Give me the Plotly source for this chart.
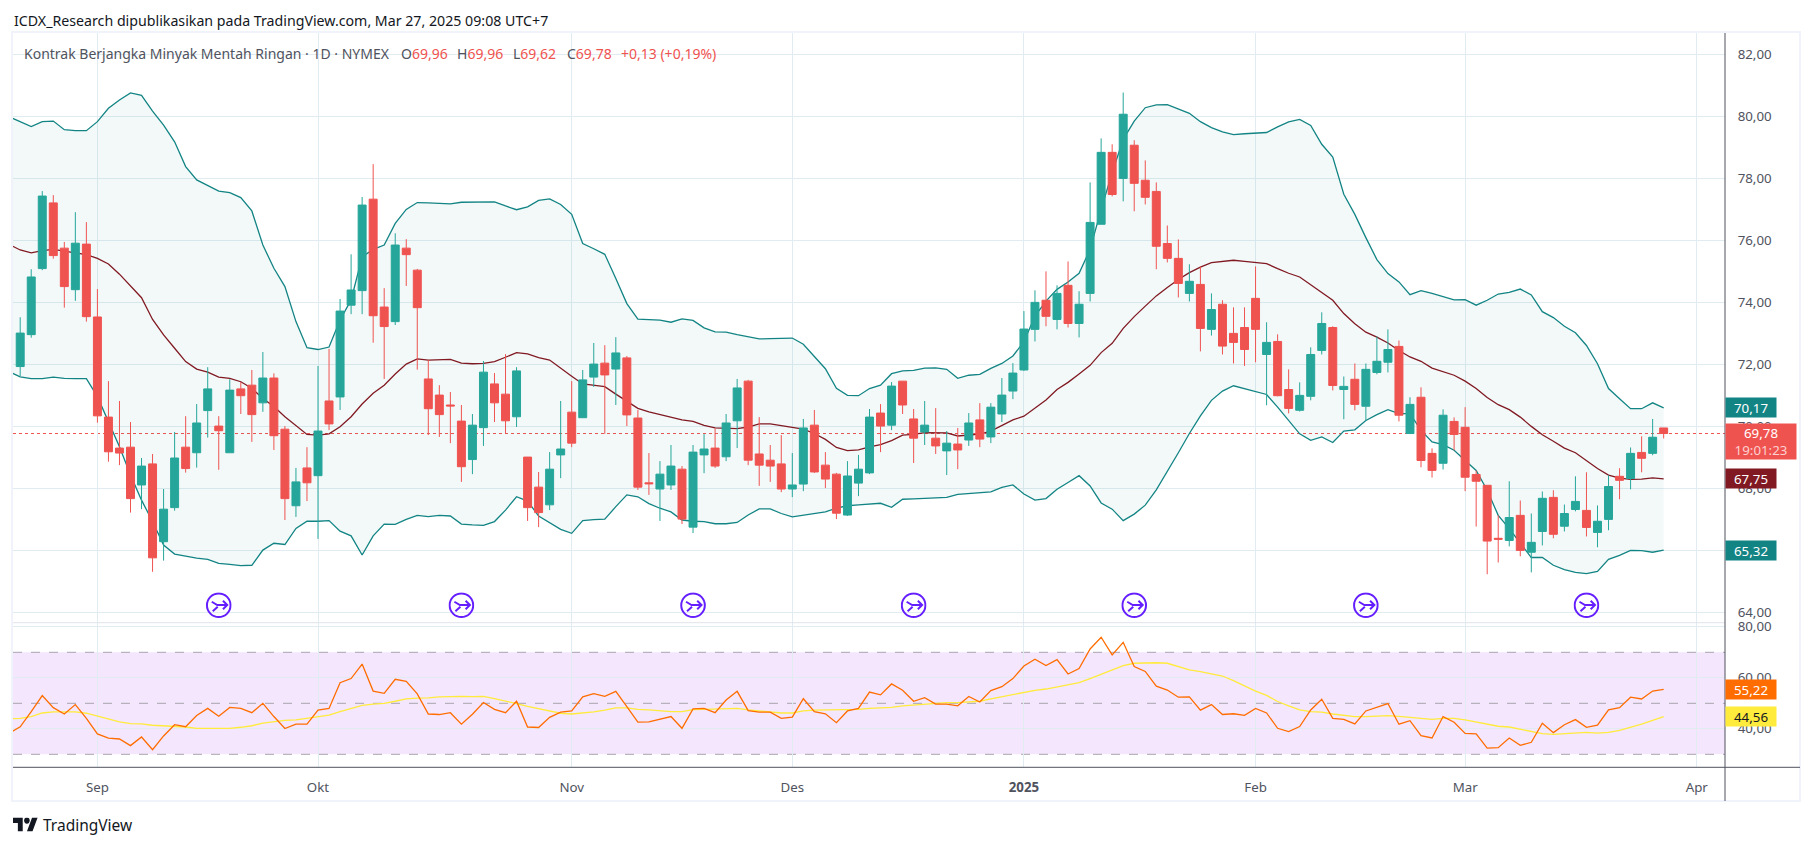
import base64
import plotly.graph_objects as go

W, H = 1814, 846
FONT = "Noto Sans"

open_ = [71.94, 72.97, 75.10, 77.22, 75.76, 74.42, 75.89, 73.54, 70.31, 69.31,
         69.34, 68.12, 68.80, 66.29, 67.39, 69.34, 69.16, 70.52, 70.02, 69.16,
         71.22, 71.34, 70.77, 71.57, 69.92, 67.45, 68.67, 68.42, 70.83, 70.96,
         73.92, 74.39, 77.34, 73.86, 73.39, 75.76, 75.05, 71.54, 71.02, 70.70,
         70.18, 68.94, 69.97, 71.38, 71.05, 70.32, 69.02, 68.05, 67.48, 69.09,
         70.47, 70.29, 71.60, 72.05, 71.86, 72.22, 70.28, 68.19, 67.99, 68.12,
         68.63, 66.76, 69.09, 69.31, 69.03, 70.19, 71.47, 69.12, 68.92, 68.80,
         67.99, 68.15, 70.05, 68.76, 68.47, 67.15, 68.18, 68.51, 70.44, 70.05,
         71.47, 70.25, 69.83, 69.63, 69.22, 69.44, 69.57, 70.22, 69.67, 70.41,
         71.15, 71.83, 73.14, 74.08, 73.46, 74.56, 73.33, 74.30, 76.53, 78.85,
         78.01, 79.08, 77.95, 77.59, 75.91, 75.43, 74.30, 74.59, 73.14, 73.95,
         73.01, 73.20, 74.14, 72.33, 72.75, 71.20, 70.53, 70.98, 72.46, 73.20,
         71.20, 71.53, 70.66, 71.75, 72.08, 72.59, 69.78, 70.95, 69.14, 68.82,
         70.17, 69.98, 68.46, 68.11, 66.40, 66.33, 67.14, 65.95, 66.62, 67.72,
         66.79, 67.33, 67.30, 66.59, 67.01, 68.40, 68.33, 69.17, 69.14, 69.96]
high = [73.53, 75.08, 77.60, 77.47, 75.96, 76.92, 76.60, 74.44, 71.47, 70.83,
        70.15, 68.99, 69.12, 67.99, 69.83, 70.34, 70.73, 71.92, 70.34, 71.53,
        71.44, 71.83, 72.41, 71.72, 70.02, 68.67, 69.34, 71.96, 72.51, 74.12,
        75.56, 77.41, 78.47, 74.47, 76.24, 76.05, 75.09, 72.15, 71.34, 71.12,
        70.70, 70.41, 72.12, 71.73, 72.34, 71.92, 69.02, 68.54, 69.18, 70.83,
        71.47, 71.83, 72.70, 72.63, 72.89, 72.28, 70.54, 69.15, 68.89, 69.41,
        68.73, 69.41, 69.76, 69.95, 70.41, 71.54, 71.51, 70.31, 69.41, 69.73,
        69.15, 70.25, 70.54, 69.18, 68.51, 68.89, 69.09, 70.57, 70.73, 71.44,
        71.47, 70.57, 70.83, 70.60, 69.86, 69.96, 70.44, 70.76, 70.76, 71.57,
        72.05, 73.73, 74.40, 75.01, 74.56, 75.33, 74.37, 77.88, 79.30, 79.11,
        80.78, 79.24, 78.59, 77.88, 76.49, 76.04, 75.24, 75.17, 74.30, 74.08,
        73.85, 73.85, 75.17, 73.37, 72.98, 71.85, 71.43, 72.56, 73.69, 73.24,
        71.62, 72.04, 72.04, 72.91, 73.14, 72.78, 70.95, 71.27, 69.30, 70.56,
        70.30, 70.63, 68.59, 68.11, 67.14, 68.24, 67.62, 67.20, 67.91, 67.95,
        67.49, 68.40, 68.53, 67.46, 68.43, 68.66, 69.33, 69.69, 70.25, 69.96]
low = [71.63, 72.87, 75.05, 75.42, 73.84, 74.06, 73.39, 70.13, 68.87, 68.76,
       67.23, 67.34, 65.32, 65.68, 67.29, 68.52, 68.68, 69.65, 68.61, 69.16,
       70.41, 69.51, 70.48, 69.25, 66.99, 67.09, 67.60, 66.38, 69.89, 70.54,
       73.63, 73.63, 72.71, 71.54, 73.28, 74.54, 71.84, 69.73, 69.67, 69.47,
       68.22, 68.47, 69.38, 70.15, 69.78, 69.99, 66.96, 66.76, 67.31, 68.34,
       69.34, 70.29, 71.28, 69.77, 70.70, 70.02, 67.96, 67.80, 66.96, 67.96,
       66.86, 66.57, 68.50, 68.67, 68.89, 69.31, 68.76, 68.09, 68.22, 67.89,
       67.73, 67.92, 68.51, 68.02, 67.02, 67.12, 67.76, 68.47, 69.18, 69.89,
       70.41, 68.83, 69.41, 69.12, 68.44, 68.63, 69.38, 69.34, 69.47, 70.15,
       70.89, 71.80, 72.75, 73.24, 73.14, 73.20, 72.88, 74.04, 76.53, 77.43,
       77.27, 76.95, 77.17, 75.08, 75.30, 74.17, 74.04, 72.43, 72.94, 72.33,
       72.04, 71.96, 72.08, 70.69, 70.98, 70.43, 70.49, 70.85, 72.33, 71.17,
       70.24, 70.53, 70.20, 71.69, 71.75, 70.17, 69.78, 68.69, 68.36, 68.62,
       69.24, 67.92, 66.78, 65.24, 65.62, 66.14, 65.82, 65.30, 66.17, 66.40,
       66.62, 67.27, 66.46, 66.11, 66.66, 67.66, 67.98, 68.53, 69.08, 69.62]
close = [73.02, 74.83, 77.44, 75.52, 74.52, 75.92, 73.55, 70.35, 69.19, 69.15,
         67.68, 68.73, 65.77, 67.34, 68.99, 68.65, 70.12, 71.22, 69.87, 71.18,
         71.00, 70.39, 71.57, 69.71, 67.68, 68.22, 68.19, 69.86, 70.09, 73.73,
         74.41, 77.15, 73.58, 73.23, 75.86, 75.55, 73.84, 70.58, 70.39, 70.67,
         68.71, 70.05, 71.76, 70.77, 70.19, 71.80, 67.39, 67.23, 68.63, 69.28,
         69.47, 71.51, 72.02, 71.67, 72.38, 70.38, 68.05, 68.16, 68.47, 68.73,
         67.02, 69.18, 69.28, 68.73, 70.12, 71.25, 68.92, 68.76, 68.73, 67.99,
         68.12, 69.96, 68.54, 68.31, 67.21, 68.41, 68.63, 70.31, 70.02, 71.31,
         70.70, 69.63, 70.05, 69.38, 69.47, 69.25, 70.12, 69.60, 70.63, 71.02,
         71.73, 73.15, 74.01, 73.56, 74.30, 73.33, 73.95, 76.59, 78.85, 77.49,
         80.08, 77.85, 77.40, 75.82, 75.43, 74.62, 74.69, 73.17, 73.78, 72.60,
         72.72, 72.49, 73.14, 72.72, 71.00, 70.59, 71.01, 72.33, 73.33, 71.33,
         71.30, 70.72, 71.85, 72.11, 72.49, 70.37, 70.72, 68.91, 68.59, 70.37,
         69.75, 68.37, 68.24, 66.31, 66.37, 67.07, 66.01, 66.27, 67.69, 66.53,
         67.20, 67.59, 66.75, 66.95, 68.07, 68.27, 69.14, 68.98, 69.66, 69.78]

# bollinger bands and rsi start one bar before the first visible candle
bb_upper = [80.00, 79.84, 79.68, 79.84, 79.86, 79.58, 79.55, 79.55, 79.84, 80.27, 80.54,
            80.77, 80.69, 80.18, 79.73, 79.19, 78.39, 77.96, 77.78, 77.60, 77.55,
            77.39, 76.96, 75.86, 75.11, 74.52, 73.39, 72.55, 72.49, 72.57, 73.44,
            74.09, 75.48, 75.72, 75.86, 76.56, 77.01, 77.23, 77.22, 77.20, 77.19,
            77.24, 77.24, 77.25, 77.25, 77.12, 77.00, 77.09, 77.30, 77.35, 77.17,
            76.85, 75.91, 75.74, 75.56, 74.78, 73.97, 73.47, 73.46, 73.44, 73.37,
            73.48, 73.43, 73.19, 73.06, 73.05, 72.97, 72.90, 72.83, 72.84, 72.86,
            72.86, 72.66, 72.26, 71.87, 71.24, 71.01, 71.00, 71.23, 71.34, 71.71,
            71.80, 71.82, 71.89, 71.90, 71.85, 71.56, 71.66, 71.69, 71.88, 72.04,
            72.28, 72.74, 73.57, 74.05, 74.43, 74.67, 74.95, 75.72, 77.01, 78.19,
            79.27, 79.86, 80.29, 80.38, 80.39, 80.24, 80.11, 79.84, 79.65, 79.51,
            79.42, 79.45, 79.47, 79.49, 79.67, 79.83, 79.91, 79.72, 79.11, 78.70,
            77.50, 76.85, 76.10, 75.39, 74.94, 74.67, 74.26, 74.39, 74.30, 74.19,
            74.09, 74.10, 73.92, 74.08, 74.28, 74.33, 74.44, 74.25, 73.71, 73.52,
            73.24, 73.03, 72.62, 72.03, 71.23, 70.90, 70.58, 70.58, 70.77, 70.61]
bb_basis = [75.88, 75.70, 75.61, 75.68, 75.72, 75.66, 75.59, 75.55, 75.43, 75.25, 74.92,
            74.54, 74.16, 73.46, 72.96, 72.53, 72.10, 71.86, 71.76, 71.60, 71.56,
            71.45, 71.24, 70.91, 70.65, 70.32, 70.02, 69.75, 69.73, 69.77, 70.00,
            70.32, 70.73, 71.08, 71.34, 71.70, 72.02, 72.19, 72.15, 72.16, 72.17,
            72.05, 72.03, 72.04, 72.10, 72.24, 72.39, 72.35, 72.23, 72.15, 71.88,
            71.63, 71.38, 71.34, 71.29, 71.05, 70.81, 70.59, 70.48, 70.40, 70.30,
            70.22, 70.17, 70.04, 69.96, 69.95, 69.94, 69.99, 70.09, 70.09, 70.03,
            69.98, 69.92, 69.78, 69.59, 69.33, 69.23, 69.25, 69.35, 69.42, 69.55,
            69.73, 69.75, 69.81, 69.81, 69.80, 69.70, 69.73, 69.76, 69.86, 70.05,
            70.22, 70.34, 70.59, 70.86, 71.20, 71.43, 71.70, 71.98, 72.39, 72.69,
            73.17, 73.55, 73.89, 74.22, 74.49, 74.75, 74.97, 75.15, 75.29, 75.33,
            75.37, 75.33, 75.30, 75.26, 75.10, 74.95, 74.83, 74.58, 74.34, 74.08,
            73.65, 73.32, 73.05, 72.89, 72.70, 72.46, 72.25, 72.11, 71.89, 71.78,
            71.66, 71.47, 71.23, 70.94, 70.71, 70.55, 70.31, 70.01, 69.74, 69.53,
            69.31, 69.16, 68.89, 68.65, 68.44, 68.34, 68.30, 68.31, 68.35, 68.32]
bb_lower = [71.77, 71.61, 71.55, 71.55, 71.60, 71.56, 71.55, 71.55, 70.97, 70.16, 69.35,
            68.44, 67.63, 66.94, 66.18, 65.89, 65.82, 65.76, 65.72, 65.59, 65.56,
            65.52, 65.53, 66.02, 66.24, 66.20, 66.72, 66.95, 66.95, 66.97, 66.63,
            66.48, 65.86, 66.48, 66.86, 66.85, 67.01, 67.14, 67.10, 67.14, 67.12,
            66.86, 66.83, 66.82, 66.94, 67.31, 67.74, 67.60, 67.12, 66.91, 66.69,
            66.56, 66.97, 67.00, 67.02, 67.42, 67.80, 67.74, 67.52, 67.37, 67.25,
            66.99, 66.95, 66.94, 66.87, 66.87, 66.91, 67.15, 67.35, 67.35, 67.20,
            67.09, 67.14, 67.19, 67.25, 67.37, 67.45, 67.48, 67.51, 67.53, 67.40,
            67.66, 67.67, 67.69, 67.72, 67.72, 67.82, 67.84, 67.87, 67.90, 68.04,
            68.12, 67.83, 67.63, 67.68, 67.98, 68.20, 68.42, 68.09, 67.54, 67.34,
            66.97, 67.18, 67.47, 67.96, 68.55, 69.16, 69.78, 70.35, 70.85, 71.15,
            71.32, 71.23, 71.15, 71.04, 70.63, 70.20, 69.77, 69.56, 69.67, 69.49,
            69.86, 69.90, 70.20, 70.39, 70.55, 70.42, 70.42, 69.88, 69.51, 69.42,
            69.24, 68.91, 68.59, 67.95, 67.14, 66.71, 66.23, 65.78, 65.78, 65.53,
            65.39, 65.30, 65.26, 65.33, 65.72, 65.85, 66.01, 66.00, 65.95, 66.02]
rsi = [38.2, 40.8, 46.7, 53.0, 48.3, 45.8, 49.5, 44.1, 38.0, 36.3, 36.0,
       33.4, 36.8, 31.8, 37.2, 41.6, 40.8, 45.2, 48.0, 44.9, 48.4,
       48.0, 46.3, 50.0, 44.8, 40.1, 41.8, 41.8, 47.3, 48.0, 58.1,
       59.7, 65.4, 54.8, 53.9, 59.4, 58.6, 53.7, 45.8, 45.6, 46.3,
       41.8, 45.7, 50.3, 47.6, 46.3, 50.8, 40.7, 40.5, 44.5, 46.5,
       47.0, 52.5, 53.8, 52.7, 54.7, 48.7, 42.6, 42.7, 43.9, 44.8,
       40.2, 47.8, 48.0, 46.3, 51.3, 54.7, 47.1, 46.5, 46.5, 44.1,
       44.6, 51.8, 46.7, 45.9, 42.4, 47.0, 48.0, 54.4, 53.3, 57.6,
       55.1, 50.8, 52.2, 49.7, 49.7, 49.0, 52.7, 50.5, 55.0, 56.5,
       59.7, 64.6, 67.3, 64.8, 67.1, 61.5, 63.6, 71.3, 75.9, 69.0,
       73.9, 64.4, 62.5, 56.7, 55.2, 52.4, 52.5, 47.3, 49.5, 45.6,
       45.9, 45.3, 48.0, 46.2, 40.2, 38.9, 40.9, 47.4, 51.6, 44.1,
       43.7, 41.9, 47.0, 48.3, 49.9, 41.8, 43.2, 37.3, 36.4, 44.8,
       42.6, 38.2, 38.0, 32.4, 32.6, 36.4, 33.5, 34.7, 42.2, 38.5,
       41.6, 43.6, 40.6, 41.4, 47.4, 48.3, 52.4, 51.7, 54.8, 55.5]
rsi_ma = [43.9, 44.1, 44.8, 46.2, 46.6, 46.5, 46.6, 46.1, 44.9, 43.9, 42.7,
          42.0, 41.9, 41.4, 41.2, 41.1, 40.7, 40.2, 40.2, 40.1, 40.2,
          40.6, 41.2, 42.2, 42.8, 43.3, 43.5, 44.2, 44.9, 45.4, 46.7,
          47.8, 49.2, 49.7, 50.0, 50.8, 51.7, 52.0, 52.1, 52.5, 52.7,
          52.7, 52.6, 52.7, 51.8, 50.9, 49.9, 48.8, 47.9, 47.0, 46.1,
          45.8, 46.1, 46.6, 47.3, 48.2, 48.2, 47.6, 47.4, 47.1, 46.7,
          46.7, 47.5, 47.6, 47.8, 47.9, 48.0, 47.4, 47.0, 46.7, 46.2,
          46.2, 47.0, 47.3, 47.4, 47.4, 47.5, 47.6, 48.0, 48.2, 48.4,
          49.0, 49.3, 49.6, 50.0, 50.3, 50.3, 50.5, 50.8, 51.7, 52.5,
          53.3, 54.1, 55.1, 55.6, 56.5, 57.2, 58.1, 59.7, 61.5, 63.1,
          64.8, 65.7, 65.9, 65.9, 65.7, 64.4, 63.1, 62.4, 61.5, 60.7,
          58.9, 56.8, 54.8, 53.1, 50.7, 49.0, 47.4, 46.7, 46.5, 45.8,
          45.2, 44.8, 44.8, 44.9, 45.2, 44.9, 44.5, 44.0, 43.7, 44.1,
          44.1, 43.5, 42.6, 41.8, 41.0, 40.7, 39.8, 38.8, 38.1, 37.8,
          38.0, 38.3, 38.6, 38.3, 38.6, 39.4, 40.5, 41.8, 43.3, 44.8]

month_bars = [7, 27, 50, 70, 91, 112, 131, 152]
month_labels = ["Sep", "Okt", "Nov", "Des", "<b>2025</b>", "Feb", "Mar", "Apr"]
price_ticks = [64, 66, 68, 70, 72, 74, 76, 78, 80, 82]
price_labels = ["64,00", "66,00", "68,00", "70,00", "72,00", "74,00", "76,00", "78,00", "80,00", "82,00"]
rsi_ticks = [40, 60, 80]
rsi_labels = ["40,00", "60,00", "80,00"]
event_bars = [18, 40, 61, 81, 101, 122, 142]
event_level = 64.24

header = "ICDX_Research dipublikasikan pada TradingView.com, Mar 27, 2025 09:08 UTC+7"
symbol = "Kontrak Berjangka Minyak Mentah Ringan · 1D · NYMEX"
ohlc_letters = ["O", "H", "L", "C"]
ohlc_texts = ["69,96", "69,96", "69,62", "69,78"]
change_text = "+0,13 (+0,19%)"
countdown = "19:01:23"

GREEN, RED = "#26a69a", "#ef5350"
TEAL, MAROON = "#138484", "#801922"
ORANGE, YELLOW = "#ff6d00", "#ffeb3b"
GRID = "#e1ecf2"
AXIS = "#50535e"
LEFT, RIGHT = 13, 1725
MAIN_TOP, SPLIT, BOTTOM = 33, 622.7, 767.3


def px(v):
    return v / W


def py(v):
    return 1 - v / H


def svg_uri(svg):
    return "data:image/svg+xml;base64," + base64.b64encode(svg.encode()).decode()


ICON = svg_uri('<svg xmlns="http://www.w3.org/2000/svg" viewBox="0 0 26 26" width="104" height="104">'
               '<g fill="none" stroke="#651fff" stroke-width="2">'
               '<circle cx="13" cy="13" r="11.8"/>'
               '<path d="M6 9.5L11.5 12.8H21M17.2 8.5L21.5 12.8L17.2 17M7 19L12 14.5"/></g></svg>')
LOGO = svg_uri('<svg xmlns="http://www.w3.org/2000/svg" viewBox="0 4 36 18" width="144" height="72">'
               '<path fill="#131722" d="M14 22H7V11H0V4h14v18zM28 22h-8l7.5-18h8L28 22z"/>'
               '<circle fill="#131722" cx="20" cy="8" r="4"/></svg>')

bars = list(range(len(close)))
band_x = list(range(-1, len(close)))

fig = go.Figure()
# bands sit on y, candles on y3 which overlays y so the bodies cover the lines
fig.add_trace(go.Scatter(x=band_x, y=bb_lower, mode="lines", line=dict(color=TEAL, width=1.3), yaxis="y"))
fig.add_trace(go.Scatter(x=band_x, y=bb_upper, mode="lines", line=dict(color=TEAL, width=1.3), yaxis="y",
                         fill="tonexty", fillcolor="rgba(19,132,132,0.05)"))
fig.add_trace(go.Scatter(x=band_x, y=bb_basis, mode="lines", line=dict(color=MAROON, width=1.3), yaxis="y"))
fig.add_trace(go.Candlestick(x=bars, open=open_, high=high, low=low, close=close, yaxis="y3", whiskerwidth=0,
                             increasing=dict(line=dict(color=GREEN, width=1), fillcolor=GREEN),
                             decreasing=dict(line=dict(color=RED, width=1), fillcolor=RED)))
fig.add_trace(go.Scatter(x=band_x, y=rsi_ma, mode="lines", line=dict(color=YELLOW, width=1.3), yaxis="y2"))
fig.add_trace(go.Scatter(x=band_x, y=rsi, mode="lines", line=dict(color=ORANGE, width=1.3), yaxis="y2"))

x_range = [(LEFT - 20.2) / 11.03, (RIGHT - 20.2) / 11.03]
main_range = [70 - (SPLIT - 426.7) / 31, 70 + (426.7 - MAIN_TOP) / 31]
rsi_range = [50 - (BOTTOM - 703.3) / 2.55, 50 + (703.3 - SPLIT) / 2.55]

shapes = [
    dict(type="rect", xref="x", yref="y2", x0=x_range[0], x1=x_range[1], y0=30, y1=70,
         fillcolor="rgba(145,5,235,0.1)", line_width=0, layer="below"),
    dict(type="line", xref="x", yref="y", x0=x_range[0], x1=x_range[1], y0=close[-1], y1=close[-1],
         line=dict(color=RED, width=1, dash="dot"), layer="below"),
    # frame and pane separator
    dict(type="rect", xref="paper", yref="paper", x0=px(LEFT - 1), x1=px(1800), y0=py(801), y1=py(MAIN_TOP - 1),
         line=dict(color="#f0f3fa", width=2)),
    dict(type="line", xref="paper", yref="paper", x0=px(LEFT), x1=px(RIGHT), y0=py(SPLIT), y1=py(SPLIT),
         line=dict(color="#e0e3eb", width=1)),
    dict(type="line", xref="paper", yref="paper", x0=px(LEFT), x1=px(1800), y0=py(BOTTOM), y1=py(BOTTOM),
         line=dict(color=AXIS, width=1)),
    dict(type="line", xref="paper", yref="paper", x0=px(RIGHT), x1=px(RIGHT), y0=py(801), y1=py(MAIN_TOP),
         line=dict(color=AXIS, width=1)),
]
for level in [30, 50, 70]:
    shapes.append(dict(type="line", xref="x", yref="y2", x0=x_range[0], x1=x_range[1], y0=level, y1=level,
                       line=dict(color="#a8a4ae", width=1, dash="dash"), layer="below"))

annotations = [
    dict(xref="paper", yref="paper", x=px(12), y=py(20), text=header, showarrow=False, xanchor="left",
         yanchor="middle", font=dict(family=FONT, size=14.2, color="#131722")),
    dict(xref="paper", yref="paper", x=px(22), y=py(53), text=symbol, showarrow=False, xanchor="left",
         yanchor="middle", font=dict(family=FONT, size=14, color="#50535e")),
    dict(xref="paper", yref="paper", x=px(619), y=py(53), text=change_text, showarrow=False, xanchor="left",
         yanchor="middle", font=dict(family=FONT, size=14, color=RED)),
    dict(xref="paper", yref="paper", x=px(41), y=py(825), text="TradingView", showarrow=False, xanchor="left",
         yanchor="middle", font=dict(family=FONT, size=15.5, color="#131722")),
]
for letter, value, left in zip(ohlc_letters, ohlc_texts, [398.5, 455, 510.5, 564.5]):
    annotations.append(dict(xref="paper", yref="paper", x=px(left), y=py(53), showarrow=False, xanchor="left",
                            yanchor="middle", font=dict(family=FONT, size=14, color=RED),
                            text='<span style="color:#50535e">%s</span>%s' % (letter, value)))


def value_tag(yref, y, text, bg, color="white", width=50, height=19, yshift=0):
    return dict(xref="paper", yref=yref, x=px(RIGHT), y=y, text=text, showarrow=False, xanchor="left",
                yanchor="middle", bgcolor=bg, width=width, height=height, yshift=yshift, align="center",
                valign="middle", borderpad=0, font=dict(family=FONT, size=13.3, color=color))


annotations += [
    value_tag("y", bb_upper[-1], "70,17", TEAL),
    value_tag("y", bb_basis[-1], "67,75", MAROON),
    value_tag("y", bb_lower[-1], "65,32", TEAL),
    value_tag("y", close[-1], '69,78<br><span style="color:#fcd0cf">%s</span>' % countdown, RED,
              width=70, height=35, yshift=-8),
    value_tag("y2", rsi[-1], "55,22", ORANGE),
    value_tag("y2", rsi_ma[-1], "44,56", YELLOW, color="#131722"),
]

images = [dict(source=ICON, xref="x", yref="y", x=b, y=event_level, sizex=26 / 11.03, sizey=26 / 31,
               xanchor="center", yanchor="middle", sizing="stretch", layer="above") for b in event_bars]
images.append(dict(source=LOGO, xref="paper", yref="paper", x=px(13), y=py(817.5), sizex=px(25), sizey=14 / H,
                   xanchor="left", yanchor="top", sizing="stretch", layer="above"))

tick_font = dict(family=FONT, size=13.3, color="#50535e")
fig.update_layout(
    width=W, height=H, margin=dict(l=0, r=0, t=0, b=0), paper_bgcolor="white", plot_bgcolor="white",
    showlegend=False, hovermode=False, boxgap=0.15, boxgroupgap=0.15,
    xaxis=dict(domain=[px(LEFT), px(RIGHT)], range=x_range, anchor="y2", tickmode="array", tickvals=month_bars,
               ticktext=month_labels, showgrid=True, gridcolor=GRID, gridwidth=1, zeroline=False,
               ticks="outside", ticklen=8, tickcolor="rgba(0,0,0,0)", tickfont=tick_font,
               rangeslider=dict(visible=False), showline=False, automargin=False),
    yaxis=dict(domain=[py(SPLIT), py(MAIN_TOP)], range=main_range, side="right", anchor="x", tickmode="array",
               tickvals=price_ticks, ticktext=price_labels, showgrid=True, gridcolor=GRID, gridwidth=1,
               zeroline=False, ticks="outside", ticklen=9, tickcolor="rgba(0,0,0,0)", tickfont=tick_font,
               automargin=False),
    yaxis2=dict(domain=[py(BOTTOM), py(SPLIT)], range=rsi_range, side="right", anchor="x", tickmode="array",
                tickvals=rsi_ticks, ticktext=rsi_labels, showgrid=True, gridcolor=GRID, gridwidth=1,
                zeroline=False, ticks="outside", ticklen=9, tickcolor="rgba(0,0,0,0)", tickfont=tick_font,
                automargin=False),
    yaxis3=dict(overlaying="y", range=main_range, side="right", anchor="x", visible=False, automargin=False),
    shapes=shapes, annotations=annotations, images=images,
)

fig.write_html("out.html", post_script="document.body.style.margin='0';", config={"displayModeBar": False})
